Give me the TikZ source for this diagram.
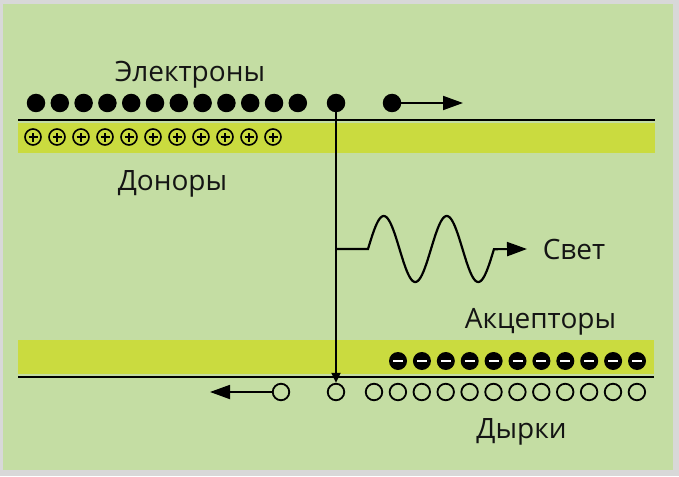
\documentclass[tikz,border=0pt]{standalone}
\usepackage{fontspec}
\setmainfont{Open Sans}
\usetikzlibrary{arrows.meta}
\definecolor{bggreen}{RGB}{196,221,163}
\definecolor{bandyellow}{RGB}{202,219,63}
\definecolor{framegray}{RGB}{216,216,216}
\definecolor{ink}{RGB}{20,20,20}
\begin{document}
\begin{tikzpicture}[x=1pt,y=-1pt,
  lbl/.style={font=\fontsize{28}{32}\selectfont, anchor=base, text=ink, inner sep=0},
  edot/.style={circle, fill=black, minimum size=18.5pt, inner sep=0},
  donor/.style={circle, draw=black, line width=1.6pt, fill=bandyellow, minimum size=16pt, inner sep=0,
    path picture={\draw[line width=1.4pt] ([xshift=-4.5pt]path picture bounding box.center) -- ++(9pt,0)
      ([yshift=-4.5pt]path picture bounding box.center) -- ++(0,9pt);}},
  acceptor/.style={circle, fill=black, minimum size=18pt, inner sep=0,
    path picture={\draw[white, line width=2.2pt] ([xshift=-5pt]path picture bounding box.center) -- ++(10pt,0);}},
  hole/.style={circle, draw=black, line width=1.8pt, minimum size=16.5pt, inner sep=0},
  level/.style={line width=2.8pt},
  conn/.style={line width=1.8pt},
  bigtip/.style={-{Triangle[length=20pt,width=14pt]}}
]
\useasboundingbox (0,0) rectangle (679,476);
\fill[framegray] (0,0) rectangle (679,476);
\fill[bggreen] (3,4) rectangle (673,470);

% bands
\fill[bandyellow] (18,123) rectangle (655,153);
\draw[level] (18,120) -- (655,120);
\fill[bandyellow] (18,340) rectangle (654,374);
\draw[level] (18,377) -- (654,377);

% electrons
\foreach \i in {0,...,11} \node[edot] (e\i) at ({36+23.8*\i},103) {};
\node[edot] (ec) at (336,103) {};
\node[edot] (em) at (392,103) {};
\coordinate (ma) at (463,103);
\draw[conn, bigtip] (em.east) -- (ma);

% donors
\foreach \i in {0,...,10} \node[donor] (d\i) at ({33+24*\i},137) {};

% acceptors
\foreach \i in {0,...,10} \node[acceptor] (a\i) at ({398+23.9*\i},361) {};

% holes
\node[hole] (h0) at (281,392) {};
\node[hole] (hc) at (336,392) {};
\foreach \i in {1,...,12} \node[hole] (h\i) at ({374+23.9*(\i-1)},392) {};
\coordinate (la) at (210,392);
\draw[conn, bigtip] (h0.west) -- (la);

% transition
\draw[line width=1.9pt, -{Triangle[length=10pt,width=9pt]}] (ec.center) -- (hc.north);

% light
\coordinate (pj) at (336,249);
\coordinate (pt) at (527,249);
\draw[line width=2.2pt, bigtip] (pj) -- (368,249) -- plot[domain=0:2, samples=120, smooth] ({368+63*\x},{249-33*sin(360*\x)}) -- (pt);

% labels
\node[lbl] (tE) at (190,82) {Электроны};
\node[lbl] (tD) at (172.5,190) {Доноры};
\node[lbl] (tA) at (540.5,328) {Акцепторы};
\node[lbl] (tH) at (521.5,438) {Дырки};
\node[lbl] (tS) at (574,259) {Свет};
\end{tikzpicture}
\end{document}
